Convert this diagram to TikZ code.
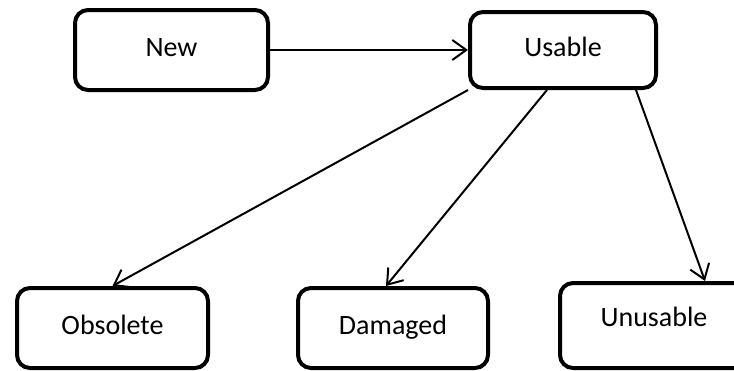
\documentclass[tikz,border=0pt]{standalone}
\usepackage{fontspec}
\setmainfont{Carlito}
\usetikzlibrary{arrows.meta}

\begin{document}
\begin{tikzpicture}[x=1pt,y=-1pt,
  state/.style={draw=black, line width=4pt, rounded corners=13pt, fill=white,
    align=center, font=\fontsize{28}{32}\selectfont,
    text height=18pt, text depth=6pt, inner sep=0pt},
  flow/.style={draw=black, line width=2pt,
    -{Straight Barb[length=14pt,width=20pt,line width=2pt]}}]
  \useasboundingbox (0,0) rectangle (734,370);
  \clip (0,0) rectangle (734,370);

  % states
  \node[state, minimum width=193pt, minimum height=80pt] (new)      at (171.5,50) {New};
  \node[state, minimum width=186pt, minimum height=76pt] (usable)   at (563,50)   {Usable};
  \node[state, minimum width=191pt, minimum height=80pt] (obsolete) at (112.5,328) {Obsolete};
  \node[state, minimum width=190pt, minimum height=80pt] (damaged)  at (393,328)  {Damaged};
  \node[state, minimum width=188pt, minimum height=85pt, text depth=16pt] (unusable) at (654,325.5) {Unusable};

  % transitions
  \draw[flow] (new.east) -- (usable.west);
  \draw[flow] (usable.south west) -- (obsolete.north);
  \draw[flow] ([xshift=-16pt]usable.south) -- ([xshift=-7pt]damaged.north);
  \draw[flow] ([xshift=-22pt]usable.south east) -- ([xshift=51pt]unusable.north);
\end{tikzpicture}
\end{document}
